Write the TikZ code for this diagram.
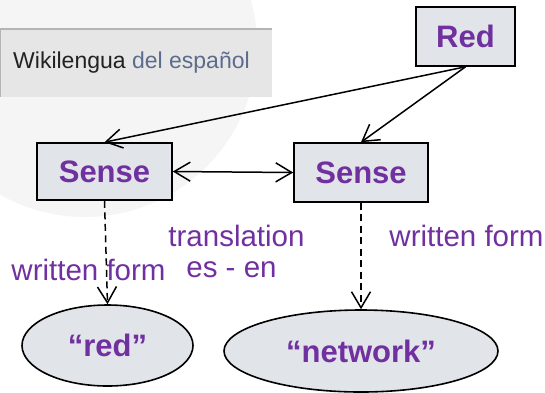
\documentclass[tikz,border=0pt]{standalone}
\usepackage{fontspec}
\setmainfont{Liberation Sans}
\usetikzlibrary{arrows.meta,shapes.geometric}
\definecolor{lblpurple}{HTML}{7030A0}
\definecolor{boxfill}{HTML}{E1E4E8}
\definecolor{wmark}{HTML}{F5F5F5}
\definecolor{bannerfill}{HTML}{E6E6E6}
\definecolor{bannerline}{HTML}{B4B4B4}
\definecolor{bannerblue}{HTML}{5C6C8C}
\tikzset{
  concept/.style={draw=black, line width=1.6pt, fill=boxfill, text=lblpurple,
    font=\fontsize{31}{34}\selectfont\bfseries, inner sep=0pt},
  wordform/.style={ellipse, draw=black, line width=1.6pt, fill=boxfill, text=lblpurple,
    font=\fontsize{31}{34}\selectfont\bfseries, inner sep=0pt},
  rel/.style={text=lblpurple, font=\fontsize{29.5}{32}\selectfont, inner sep=0pt},
  barb/.tip={Straight Barb[length=16pt,width=19pt,line width=1.5pt]},
  link/.style={line width=1.5pt, -barb},
  formlink/.style={link, dash pattern=on 7pt off 4.5pt},
}
\begin{document}
\begin{tikzpicture}[x=1pt,y=-1pt]
\useasboundingbox (0,0) rectangle (545,392);
% faint background disc
\begin{scope}
  \clip (0,0) rectangle (545,392);
  \fill[wmark] (85,45) circle[radius=172];
\end{scope}
% banner
\node[fill=bannerfill, minimum width=272pt, minimum height=68pt, inner sep=0pt, anchor=north west] (banner) at (0,29) {};
\draw[bannerline, line width=1.5pt] (banner.south west) -- (banner.north west) -- (banner.north east);
\node[anchor=west, inner sep=0pt, font=\fontsize{23}{26}\selectfont] (bannertext) at (13,63)
  {\textcolor[HTML]{222222}{Wikilengua} \textcolor{bannerblue}{del español}};
% concepts
\node[concept, minimum width=99pt, minimum height=59pt] (red) at (465.5,36.5) {Red};
\node[concept, minimum width=135pt, minimum height=57pt] (sensees) at (104.5,171.5) {Sense};
\node[concept, minimum width=134pt, minimum height=59pt] (senseen) at (361,172.5) {Sense};
% written forms
\node[wordform, minimum width=171pt, minimum height=81pt] (formred) at (107.5,345.5) {“red”};
\node[wordform, minimum width=274pt, minimum height=82pt] (formnet) at (361,351) {“network”};
% sense links
\draw[link] (red.south) -- (sensees.north);
\draw[link] (red.south) -- (senseen.north);
\draw[link, barb-barb] (sensees.east) -- (senseen.west);
\draw[formlink] (sensees.south) -- (formred.north);
\draw[formlink] (senseen.south) -- (formnet.north);
% relation labels
\node[rel] (trans) at (236.5,236) {translation};
\node[rel] (langs) at (231.5,270) {es - en};
\node[rel] (wfes) at (88.5,270) {written form};
\node[rel] (wfen) at (466.5,236) {written form};
\end{tikzpicture}
\end{document}
